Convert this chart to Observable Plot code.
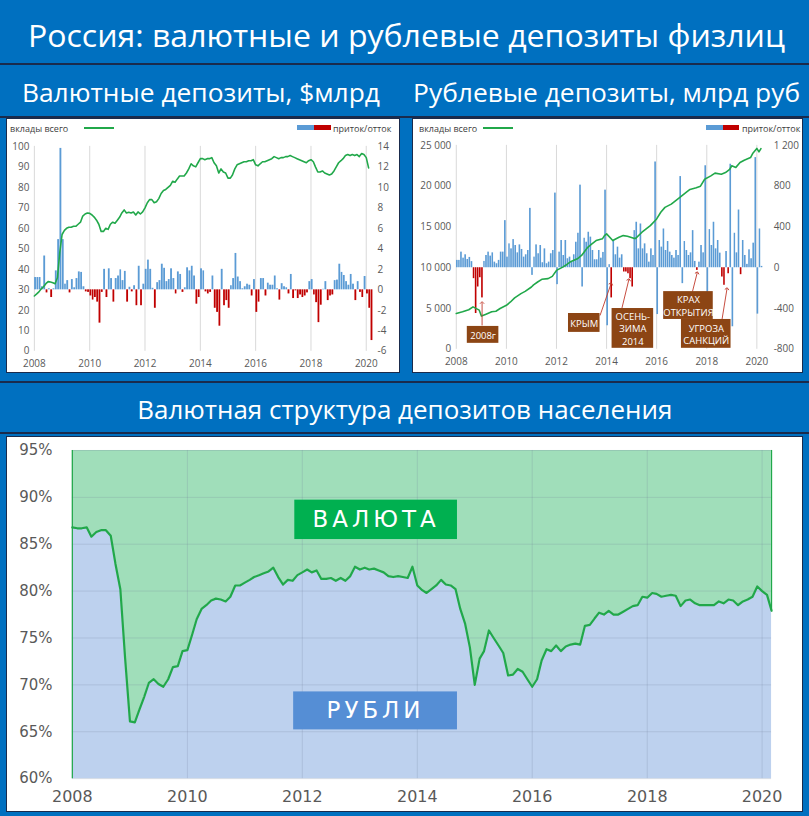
<!DOCTYPE html>
<html><head><meta charset="utf-8">
<script src="https://cdn.jsdelivr.net/npm/d3@7"></script>
<script src="https://cdn.jsdelivr.net/npm/@observablehq/plot@0.6"></script>
<style>
html,body{margin:0;padding:0;background:#0070c0;}
#page{position:relative;width:809px;height:816px;overflow:hidden;background:#0070c0;}
.sep{position:absolute;left:0;width:809px;height:2px;background:#1a2b4c;}
.ttl{position:absolute;color:#fff;white-space:nowrap;font-family:"Open Sans",sans-serif;line-height:1;transform-origin:center center;}
.panel{position:absolute;background:#fff;box-sizing:border-box;border:1px solid #1a2b4c;overflow:hidden;}
.panel svg{position:absolute;left:0;top:0;}
.lg{position:absolute;font-family:"Open Sans",sans-serif;font-size:9px;color:#404040;white-space:nowrap;line-height:1;}
.sw{position:absolute;}
</style></head>
<body><div id="page"></div>
<script>
// ---------- DATA ----------
// Валютные депозиты, $млрд (месячные, с янв.2008)
const usdTotal = [27,28,29,30.5,31.5,33,34,33.8,33.5,33,
36,48,57,59,60,60.5,60.5,61,61,62,
63,66,67,67.5,67.3,66.5,65.5,64,62,58.5,
58.5,60,59.5,62,63,62.5,64,65.5,67.5,69,
67.5,67.8,67.5,68,66.5,68,67,68,70,72.5,
74,74,72.5,73,74.5,77,78.5,79,80,81,
83,82.5,84,85.5,85.5,85.5,87,89,91.5,90.5,
90,92,94,94,93.5,94,94,94.5,92,90.5,
87,89,87.5,87,84.5,84.5,86,89,91,91.5,
92,92.5,92.5,93,93,93.5,91,90.5,91.5,92.5,
92.5,93,93.5,94,95,94.5,94,94.5,94.5,95,
95,95.5,95,94.5,94,93.5,93,92.5,92,93,
93.5,92.5,90,87.5,87.5,88,87,86.5,86,86.5,
88,90,92,93,94,95.5,96,95.5,96,95.5,
96,95,96.5,96,94.5,89.5];
// приток/отток, $млрд
const usdFlow = [1.2,1.2,1.2,0.3,3.3,-0.3,0.1,-0.75,0.1,1.85,
4.9,13.8,4.9,0.55,0.9,-0.3,1.0,0.2,1.1,1.75,
1.7,0.3,-0.2,-0.25,-0.6,-1.0,-0.75,-1.2,-3.25,-0.25,
2.0,-0.75,2.05,1.1,-1.2,1.1,1.35,1.95,0.9,1.8,
-1.2,0.25,-0.2,0.4,-1.55,2.3,-1.55,0.55,2.0,2.9,
2.0,0.15,-1.8,0.7,0.9,2.5,2.1,0.8,1.0,2.05,
1.1,-0.4,1.75,1.5,-0.25,0.2,2.15,1.85,2.3,1.35,
-1.4,-0.75,2.05,1.85,-0.2,-0.4,-0.25,1.35,-1.8,-2.2,
-3.55,2.0,-1.55,-1.05,-1.8,0.4,1.1,3.55,1.25,0.8,
0.1,0.3,0.55,0.45,-0.6,1.0,-2.2,-1.2,1.1,1.1,
-0.6,0.65,0.45,0.45,1.35,0.1,-1.0,0.6,0.3,0.2,
-0.4,1.5,-0.85,-0.1,-0.85,-0.5,-0.75,-0.6,-0.3,0.8,
1.0,-0.5,-1.25,-3.2,-1.5,0.05,0.8,-1.05,-0.6,-0.5,
0.9,0.95,2.5,1.7,1.4,0.8,0.45,1.5,0.55,-1.05,
0.8,-0.25,-0.75,1.3,-0.4,-1.8,-4.95];
// Рублевые депозиты, млрд руб (месяц от янв.2008 -> значение)
const rubTotalMonth = [0,3,6,8,11,12,14,17,19,21,24,26,28,31,33,36,37,39,41,44,46,48,51,53,55,58,60,63,65,67,70,71,72,75,78,80,82,85,86,89,91,93,96,98,100,103,105,108,110,112,115,117,119,122,124,127,129,131,132,134,136,138,141,142,144,145,146];
const rubTotal = [4390,4600,4850,5200,4800,4070,4270,4600,4670,5000,5400,5800,6300,6830,7100,7640,7900,8250,8580,8660,8940,9670,10080,10400,10770,11100,11500,12500,12930,13330,13540,13940,14150,13330,13740,13940,13860,13600,13600,14350,14760,15160,15980,16800,17400,17800,18200,18800,19200,19600,19800,20000,20850,21260,21600,21460,21670,22070,22500,22300,22900,23170,23500,24000,24630,24200,24600];
// приток/отток, млрд руб
const rubFlow = [72,72,153,94,127,81,101,60,
-107,-449,-189,-98,-296,
62,120,153,114,146,55,39,72,153,153,462,
104,234,185,276,218,146,224,179,104,127,169,582,
-75,104,224,137,218,49,185,39,55,137,169,732,
-166,153,267,120,267,88,104,55,127,250,338,810,
-189,289,250,348,300,169,78,78,169,94,150,761,
-569,30,-296,267,127,202,94,127,
-42,-42,-59,-107,-189,
364,446,185,429,185,234,137,55,185,120,1037,
-459,267,202,380,169,257,153,120,94,169,120,894,
-156,257,169,120,146,364,62,-26,55,218,146,1000,
-250,374,218,446,185,267,143,-91,-172,159,-59,1015,
-579,338,146,566,-68,267,120,33,176,88,241,1080,
-455,380,13];
const rubCrisisMonths = [8,9,10,11,12,74,80,81,82,83,84,115,127,128,130,136];
// аннотации (десятичный год, значение по левой оси)
const annText = ["2008г","КРЫМ","ОСЕНЬ-\nЗИМА\n2014","КРАХ\nОТКРЫТИЯ","УГРОЗА\nСАНКЦИЙ"];
const annBoxX = [[2008.44,2009.70],[2012.48,2013.74],[2014.22,2015.88],[2016.28,2018.26],[2016.99,2018.97]];
const annBoxY = [[732,2805],[2073,4390],[122,5000],[3659,7073],[122,3659]];
const annArrow = [[2009.03,2927,2009.03,5732],[2013.74,4146,2014.18,8049],[2014.61,5000,2014.89,8537],[2017.43,7073,2017.62,9390],[2018.61,3659,2018.81,7439]];
// Доля рублевых депозитов, % (месячные, с янв.2008)
const rubShare = [86.8,86.7,86.7,86.8,85.8,86.3,86.5,86.5,85.9,82.9,
80.2,72.9,66.1,66.0,67.3,68.7,70.2,70.6,70.1,69.8,
70.6,71.9,72.0,73.6,73.7,75.4,77.0,78.1,78.5,79.0,
79.2,79.1,78.9,79.4,80.6,80.6,80.9,81.2,81.5,81.7,
81.9,82.1,82.5,81.5,80.7,81.2,81.1,81.7,82.0,82.3,
82.0,82.2,81.3,81.3,81.4,81.1,81.4,81.1,81.6,82.6,
82.3,82.5,82.3,82.4,82.2,82.0,81.6,81.5,81.6,81.5,
81.4,82.6,80.6,80.1,79.8,80.2,80.6,81.2,80.7,80.6,
80.2,78.1,76.5,74.0,70.0,72.8,73.6,75.8,75.0,74.2,
73.4,71.0,71.1,71.7,71.4,70.6,69.8,70.6,72.6,73.8,
73.6,74.2,73.6,74.1,74.3,74.4,74.3,76.3,76.4,77.1,
77.7,77.5,77.9,77.5,77.5,77.8,78.1,78.4,78.5,79.4,
79.3,79.8,79.7,79.4,79.5,79.6,79.5,78.4,79.0,79.1,
78.7,78.5,78.5,78.5,78.5,78.9,78.7,79.1,79.0,78.5,
78.9,79.1,79.4,80.5,80.0,79.6,77.9];
const shareLabels = ["ВАЛЮТА","РУБЛИ"];
const shareLabelX = [[2011.87,2014.70],[2011.85,2014.70]];
const shareLabelY = [[85.5,89.7],[65.2,69.25]];
const yearList = [2008,2010,2012,2014,2016,2018,2020];

// ---------- HELPERS ----------
const BLUE="#5b9bd5", RED="#c00000", GREEN="#21a84a", BROWN="#8c4514";
const page = document.getElementById("page");
const mDate = m => new Date(2008, m, 1);
const yDate = y => new Date(new Date(2008,0,1).getTime() + (y-2008)*365.25*864e5);
const yearTicks = yearList.map(y => new Date(y,0,1));
const yearFmt = d => String(d.getFullYear());
const fmtSp = d => d3.format(",")(d).replace(/,/g,"\u00a0").replace("\u2212","-");

function el(cls, css, txt){const d=document.createElement("div");d.className=cls;Object.assign(d.style,css);if(txt!==undefined)d.textContent=txt;page.appendChild(d);return d;}
function title(text, cx, cy, size, targetW){
  const d = el("ttl",{fontSize:size+"px",left:"0px",top:"0px"},text);
  const r = d.getBoundingClientRect();
  d.style.left=(cx-r.width/2)+"px"; d.style.top=(cy-r.height/2)+"px";
  d.style.transform=`scaleX(${targetW/r.width})`;
}
// ---------- LAYOUT ----------
el("sep",{top:"63px"}); el("sep",{top:"116px"}); el("sep",{top:"381px"}); el("sep",{top:"432px"});
title("Россия: валютные и рублевые депозиты физлиц", 406, 35, 31, 757);
title("Валютные депозиты, $млрд", 201, 92, 25, 358);
title("Рублевые депозиты, млрд руб", 607, 92, 25, 387);
title("Валютная структура депозитов населения", 405, 409, 25, 535);

const p1 = el("panel",{left:"6px",top:"118px",width:"394px",height:"255px"});
const p2 = el("panel",{left:"412px",top:"118px",width:"391px",height:"255px"});
const p3 = el("panel",{left:"6px",top:"436px",width:"797px",height:"376px"});

const smallStyle = {fontFamily:'"Open Sans",sans-serif',fontSize:"10px",color:"#595959",background:"transparent",overflow:"visible"};

// ---------- CHART 1 ----------
const toL = v => 30 + v*5;
const usdBars = usdFlow.map((v,i)=>({x1:mDate(i),x2:mDate(i+1),v}));
const usdLine = usdTotal.map((v,i)=>({x:mDate(i),v}));
p1.appendChild(Plot.plot({
  width:394,height:255,marginLeft:27,marginRight:28,marginTop:27,marginBottom:22,
  style:smallStyle,
  x:{type:"time",domain:[mDate(0),new Date(2020,2,12)],label:null},
  y:{domain:[0,100],label:null},
  marks:[
    Plot.ruleX(yearTicks,{stroke:"#d9d9d9"}),
    Plot.rect(usdBars,{x1:"x1",x2:"x2",y1:toL(0),y2:d=>toL(d.v),fill:d=>d.v>=0?BLUE:RED,insetLeft:0.25,insetRight:0.25}),
    Plot.line(usdLine,{x:"x",y:"v",stroke:GREEN,strokeWidth:1.6}),
    Plot.axisY({anchor:"left",ticks:d3.range(0,101,10),tickSize:0,tickPadding:5,label:null}),
    Plot.axisY({anchor:"right",ticks:d3.range(0,101,10),tickFormat:d=>fmtSp((d-30)/5),tickSize:0,tickPadding:6,label:null}),
    Plot.axisX({ticks:yearTicks,tickFormat:yearFmt,tickSize:0,tickPadding:9,label:null})
  ]
}));
// legends
const lg1 = (x,y,t)=>{const d=document.createElement("div");d.className="lg";d.textContent=t;Object.assign(d.style,{left:x+"px",top:y+"px"});return d;};
const sw = (par,x,y,w,h,c)=>{const d=document.createElement("div");d.className="sw";Object.assign(d.style,{left:x+"px",top:y+"px",width:w+"px",height:h+"px",background:c});par.appendChild(d);};
p1.appendChild(lg1(3,5,"вклады всего")); sw(p1,77,8,30,1.6,GREEN);
sw(p1,290,6,17,5,BLUE); sw(p1,307,6,17,5,RED); p1.appendChild(lg1(326,5,"приток/отток"));

// ---------- CHART 2 ----------
const toR = v => 10000 + v*12.5;
const crisis = new Set(rubCrisisMonths);
const rubBars = rubFlow.map((v,i)=>({x1:mDate(i),x2:mDate(i+1),v,c:crisis.has(i)}));
const rubLine = rubTotal.map((v,i)=>({x:mDate(rubTotalMonth[i]),v}));
const ann = annText.map((t,i)=>({t,x1:yDate(annBoxX[i][0]),x2:yDate(annBoxX[i][1]),y1:annBoxY[i][0],y2:annBoxY[i][1],
  cx:yDate((annBoxX[i][0]+annBoxX[i][1])/2),cy:(annBoxY[i][0]+annBoxY[i][1])/2,
  ax1:yDate(annArrow[i][0]),ay1:annArrow[i][1],ax2:yDate(annArrow[i][2]),ay2:annArrow[i][3]}));
p2.appendChild(Plot.plot({
  width:391,height:255,marginLeft:43,marginRight:41,marginTop:26,marginBottom:24,
  style:smallStyle,
  x:{type:"time",domain:[mDate(0),new Date(2020,2,12)],label:null},
  y:{domain:[0,25000],label:null},
  marks:[
    Plot.ruleX(yearTicks,{stroke:"#d9d9d9"}),
    Plot.rect(rubBars,{x1:"x1",x2:"x2",y1:toR(0),y2:d=>toR(d.v),fill:d=>d.c?RED:BLUE,insetLeft:0.25,insetRight:0.25}),
    Plot.line(rubLine,{x:"x",y:"v",stroke:GREEN,strokeWidth:1.6}),
    Plot.link(ann,{x1:"ax1",y1:"ay1",x2:"ax2",y2:"ay2",stroke:"#c0392b",strokeWidth:0.9,markerEnd:"arrow"}),
    Plot.rect(ann,{x1:"x1",x2:"x2",y1:"y1",y2:"y2",fill:BROWN}),
    Plot.text(ann,{x:"cx",y:"cy",text:"t",fill:"#fff",fontSize:9.5,lineHeight:1.3}),
    Plot.axisY({anchor:"left",ticks:d3.range(0,25001,5000),tickFormat:fmtSp,tickSize:0,tickPadding:5,label:null}),
    Plot.axisY({anchor:"right",ticks:d3.range(0,25001,5000),tickFormat:d=>fmtSp((d-10000)/12.5),tickSize:0,tickPadding:12,label:null}),
    Plot.axisX({ticks:yearTicks,tickFormat:yearFmt,tickSize:0,tickPadding:9,label:null})
  ]
}));
p2.appendChild(lg1(6,5,"вклады всего")); sw(p2,70,8,30,1.6,GREEN);
sw(p2,293,6,17,5,BLUE); sw(p2,310,6,16,5,RED); p2.appendChild(lg1(329,5,"приток/отток"));

// ---------- CHART 3 ----------
const share = rubShare.map((v,i)=>({x:mDate(i),v}));
const last = share[share.length-1];
const labs = shareLabels.map((t,i)=>({t,x1:yDate(shareLabelX[i][0]),x2:yDate(shareLabelX[i][1]),y1:shareLabelY[i][0],y2:shareLabelY[i][1],
  cx:yDate((shareLabelX[i][0]+shareLabelX[i][1])/2),cy:(shareLabelY[i][0]+shareLabelY[i][1])/2,c:i===0?"#00b050":"#558ed5"}));
const svg3 = Plot.plot({
  width:797,height:376,marginLeft:65,marginRight:31,marginTop:13,marginBottom:34,
  style:{fontFamily:'"DejaVu Sans",sans-serif',fontSize:"15px",color:"#595959",background:"transparent",overflow:"visible"},
  x:{type:"time",domain:[mDate(0),mDate(rubShare.length-1)],label:null},
  y:{domain:[60,95],label:null},
  marks:[
    Plot.areaY(share,{x:"x",y1:"v",y2:95,fill:"#a0deba"}),
    Plot.areaY(share,{x:"x",y1:60,y2:"v",fill:"#bdd1ee"}),
    Plot.ruleX(yearTicks,{stroke:"#6d7f99",strokeOpacity:0.22}),
    Plot.ruleY(d3.range(60,96,5),{stroke:"#6d7f99",strokeOpacity:0.22}),
    Plot.ruleX([share[0]],{x:"x",y1:60,y2:95,stroke:GREEN,strokeWidth:1.2}),
    Plot.ruleX([last],{x:"x",y1:"v",y2:95,stroke:GREEN,strokeWidth:1.2}),
    Plot.line(share,{x:"x",y:"v",stroke:GREEN,strokeWidth:2.2}),
    Plot.rect(labs,{x1:"x1",x2:"x2",y1:"y1",y2:"y2",fill:"c"}),
    Plot.text(labs,{x:"cx",y:"cy",text:"t",fill:"#fff",fontSize:23,fontFamily:'"DejaVu Sans",sans-serif'}),
    Plot.axisY({anchor:"left",ticks:d3.range(60,96,5),tickFormat:d=>d+"%",tickSize:0,tickPadding:20,label:null}),
    Plot.axisX({ticks:yearTicks,tickFormat:yearFmt,tickSize:0,tickPadding:12,fontSize:16,label:null})
  ]
});
d3.select(svg3).selectAll("text").filter(function(){return shareLabels.includes(this.textContent);}).attr("letter-spacing","4px");
p3.appendChild(svg3);
</script>
</body></html>
